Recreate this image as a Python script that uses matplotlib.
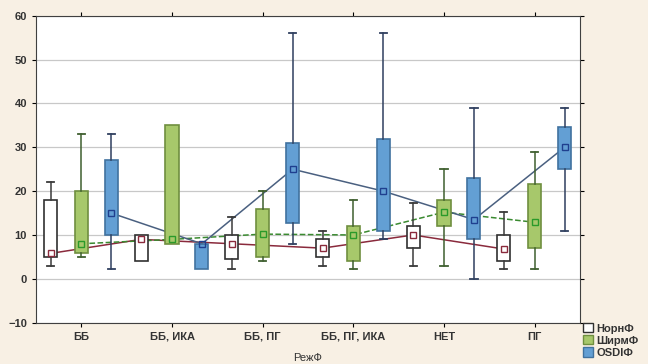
import matplotlib
matplotlib.use('Agg')
import matplotlib.pyplot as plt
from matplotlib.patches import Patch

plt.rcParams['font.family'] = ['Liberation Sans', 'DejaVu Sans']

categories = ['ББ', 'ББ, ИКА', 'ББ, ПГ', 'ББ, ПГ, ИКА', 'НЕТ', 'ПГ']
series = ['НорнФ', 'ШирмФ', 'OSDIФ']

# medians, quartiles and whisker ends per series, one value per category
norn_med = [5.8, 9, 8, 7, 10, 6.8]
norn_q1 = [5, 4, 4.6, 5, 7, 4]
norn_q3 = [18, 10, 10, 9, 12, 10]
norn_lo = [3, 4, 2.3, 3, 3, 2.3]
norn_hi = [22, 10, 14, 11, 17.3, 15.3]

shirm_med = [8, 9, 10.2, 10, 15.2, 12.9]
shirm_q1 = [6, 8, 5, 4, 12, 7]
shirm_q3 = [20, 35, 16, 12, 18, 21.6]
shirm_lo = [5, 8, 4, 2.3, 3, 2.3]
shirm_hi = [33, 35, 20, 18, 25, 29]

osdi_med = [15, 8, 25, 20, 13.5, 30]
osdi_q1 = [10, 2.3, 12.7, 11, 9, 25]
osdi_q3 = [27, 8, 31, 32, 23, 34.7]
osdi_lo = [2.3, 2.3, 8, 9, 0, 11]
osdi_hi = [33, 8, 56, 56, 39, 39]

data = [
    (norn_med, norn_q1, norn_q3, norn_lo, norn_hi),
    (shirm_med, shirm_q1, shirm_q3, shirm_lo, shirm_hi),
    (osdi_med, osdi_q1, osdi_q3, osdi_lo, osdi_hi),
]
offsets = [-0.34, 0.0, 0.33]
box_fill = ['white', '#a7c86b', '#639fd4']
box_edge = ['#303030', '#6f8f3f', '#41729f']
whisk_col = ['#3a3a3a', '#3f5f2f', '#2f3f5f']
line_col = ['#8a2a3c', '#3a8a30', '#4a6080']
line_style = ['-', '--', '-']
marker_edge = ['#8a2a3c', '#2a9a2a', '#1f3f8f']

fig = plt.figure(figsize=(6.48, 3.64), dpi=100, facecolor='#f8f0e4')
ax = fig.add_axes([36 / 648, 1 - 322.7 / 364, (580 - 36) / 648, (322.7 - 15.7) / 364])
ax.set_facecolor('white')

for i, (med, q1, q3, lo, hi) in enumerate(data):
    stats = []
    for j in range(len(categories)):
        stats.append({'med': med[j], 'q1': q1[j], 'q3': q3[j],
                      'whislo': lo[j], 'whishi': hi[j], 'fliers': []})
    pos = [j + offsets[i] for j in range(len(categories))]
    parts = ax.bxp(stats, positions=pos, widths=0.145, patch_artist=True,
                   showfliers=False, manage_ticks=False, zorder=3,
                   boxprops=dict(facecolor=box_fill[i], edgecolor=box_edge[i], linewidth=1.2),
                   whiskerprops=dict(color=whisk_col[i], linewidth=1.1),
                   capprops=dict(color=whisk_col[i], linewidth=1.3),
                   capwidths=0.08,
                   medianprops=dict(visible=False))
    # hide caps where the whisker collapses onto the box
    for j in range(len(categories)):
        if lo[j] >= q1[j]:
            parts['caps'][2 * j].set_visible(False)
        if hi[j] <= q3[j]:
            parts['caps'][2 * j + 1].set_visible(False)
    ax.plot(pos, med, color=line_col[i], linestyle=line_style[i], linewidth=1.1, zorder=2.5)
    ax.plot(pos, med, linestyle='none', marker='s', markersize=4, markerfacecolor='none',
            markeredgecolor=marker_edge[i], markeredgewidth=1.0, zorder=5)

ax.set_xlim(-0.5, 5.5)
ax.set_ylim(-10, 60)
ax.set_yticks(range(-10, 61, 10))
ax.set_xticks(range(len(categories)))
ax.set_xticklabels(categories)
ax.yaxis.grid(True, color='#c8c8c8', linewidth=0.9)
ax.set_axisbelow(True)
ax.tick_params(labelsize=8, length=3, top=True, right=True)
for lab in ax.get_xticklabels() + ax.get_yticklabels():
    lab.set_fontweight('bold')
    lab.set_color('#333333')
for sp in ax.spines.values():
    sp.set_color('#404040')
ax.set_xlabel('РежФ', fontsize=8, color='#333333', labelpad=8)

handles = [Patch(facecolor=box_fill[i], edgecolor=box_edge[i], label=series[i])
           for i in range(3)]
leg = fig.legend(handles=handles, loc='lower left', bbox_to_anchor=(0.893, 0.005),
                 frameon=False, fontsize=8, handlelength=0.9, handleheight=0.9,
                 handletextpad=0.3, labelspacing=0.15, borderaxespad=0)
for t in leg.get_texts():
    t.set_fontweight('bold')
    t.set_color('#333333')

fig.savefig('out.png', dpi=100, facecolor=fig.get_facecolor())
